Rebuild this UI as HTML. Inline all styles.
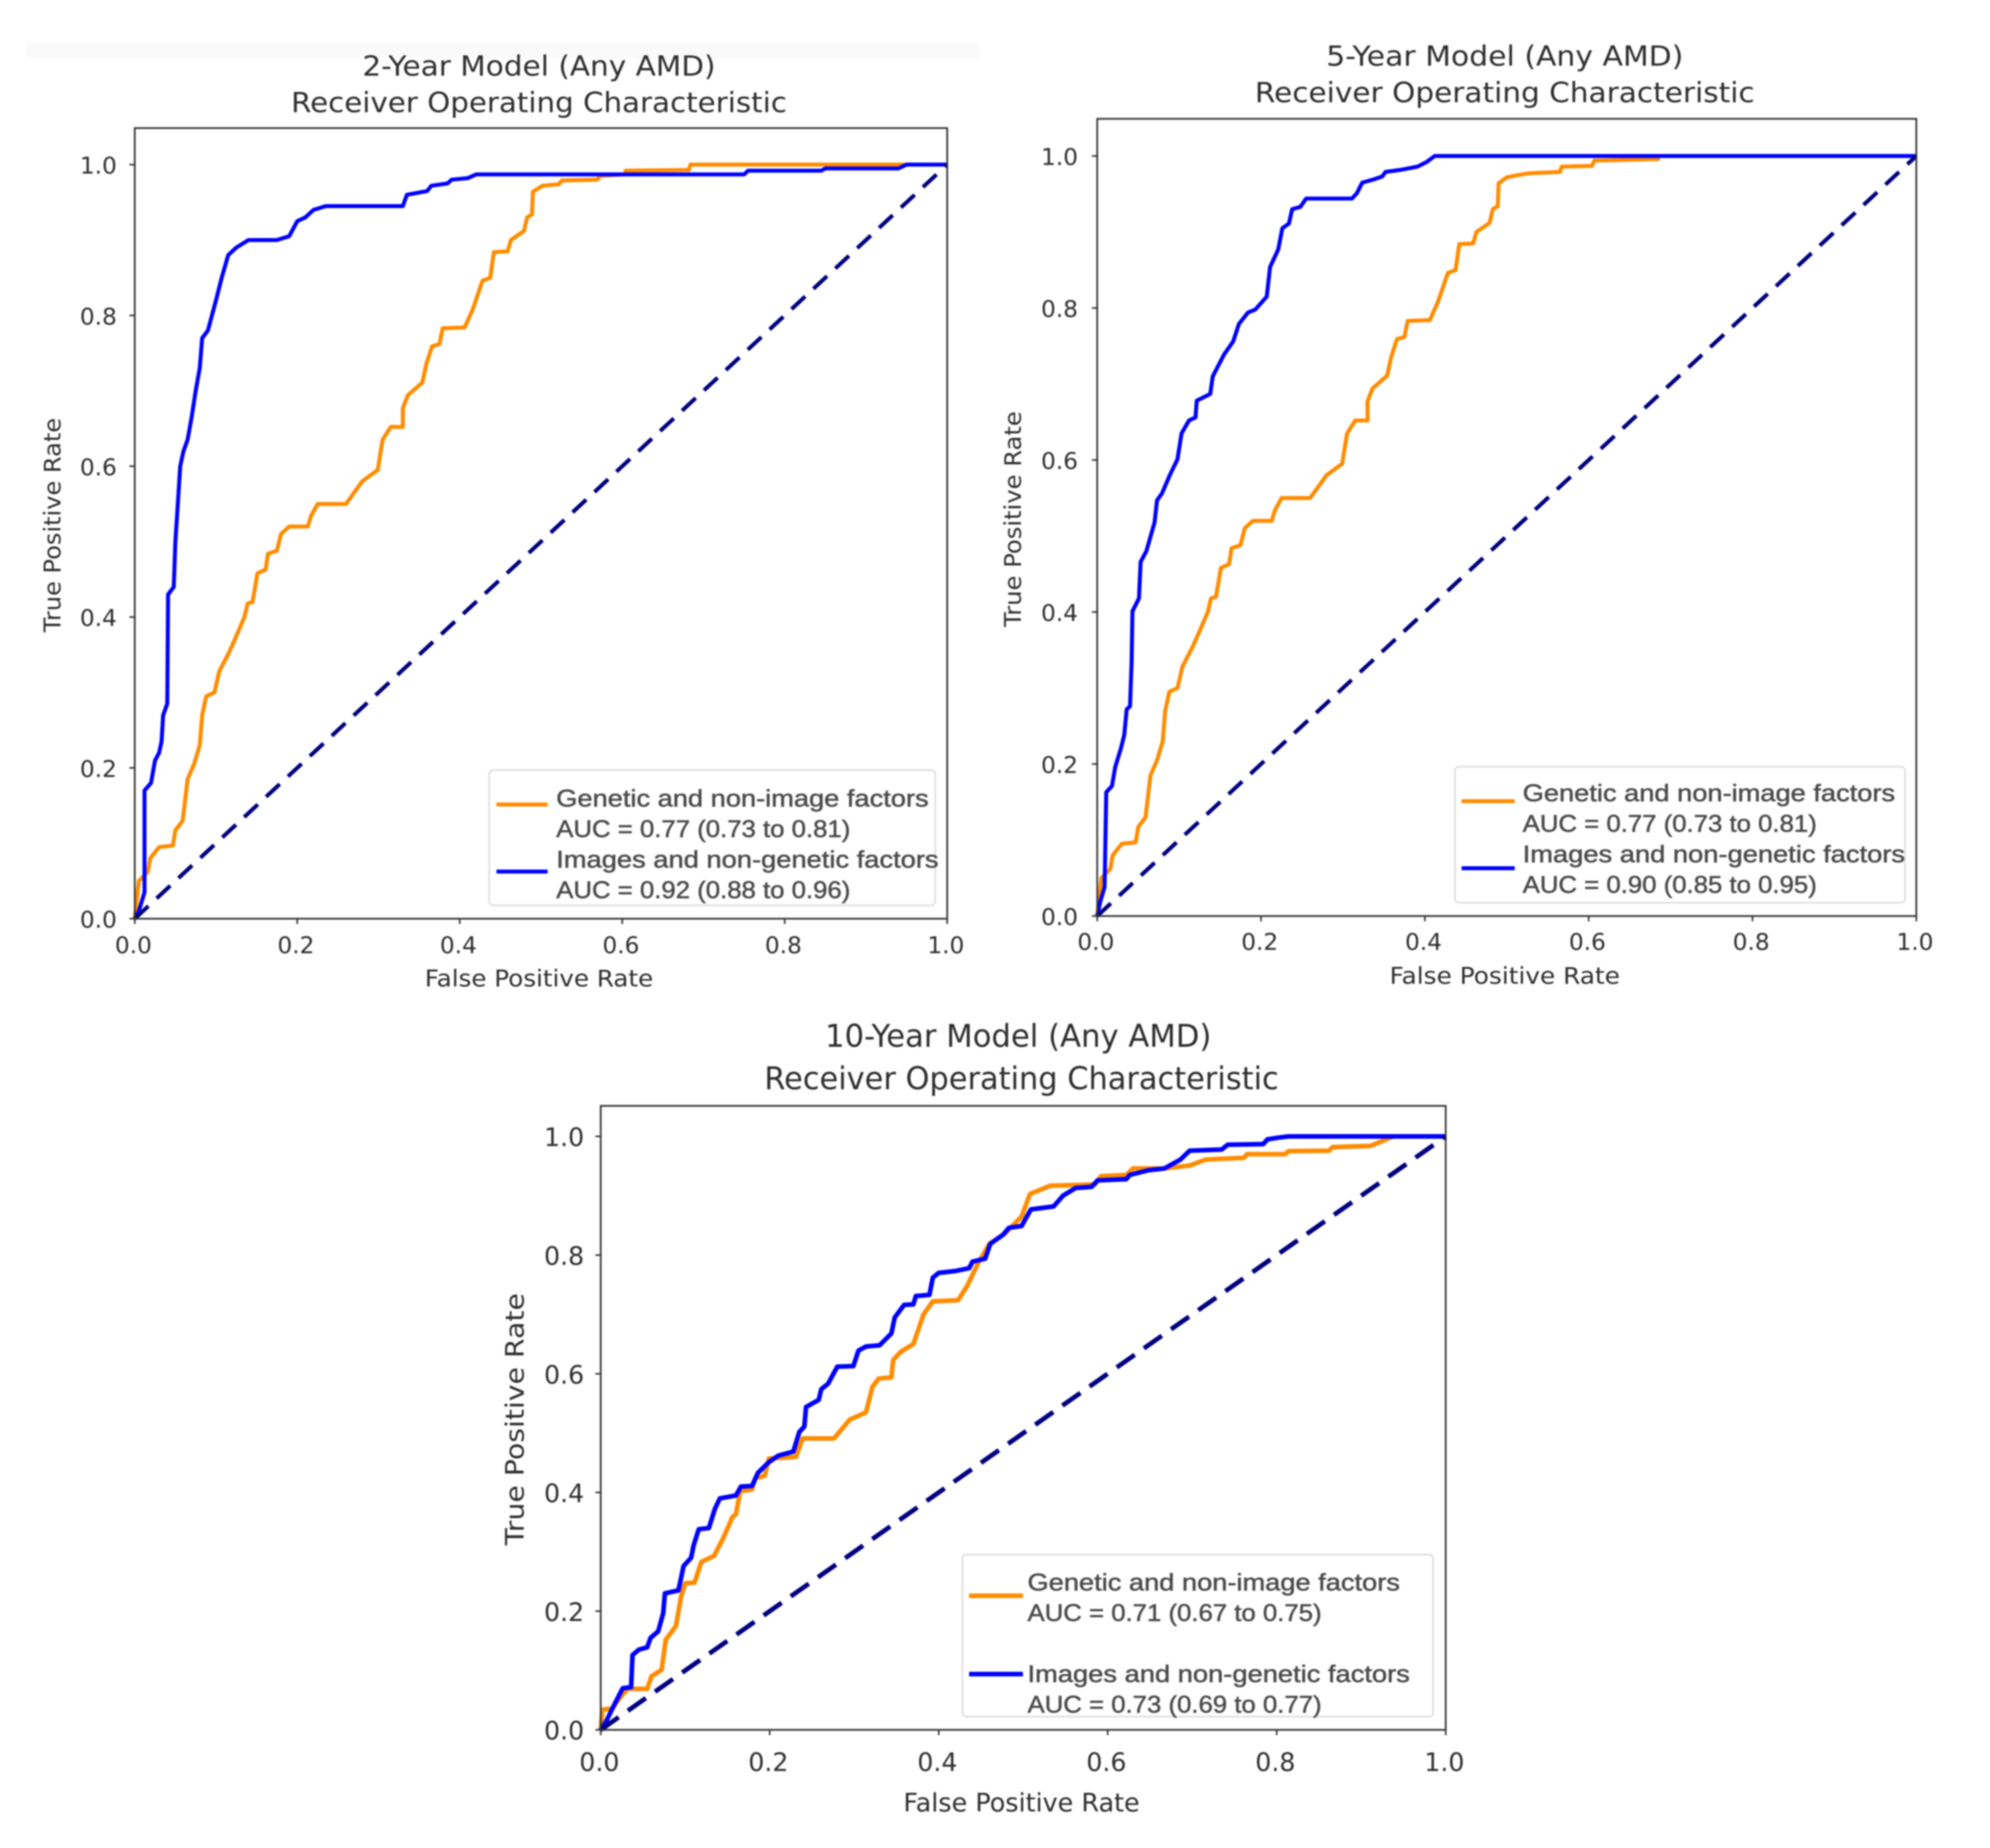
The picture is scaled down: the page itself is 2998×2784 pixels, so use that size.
<!DOCTYPE html>
<html>
<head>
<meta charset="utf-8">
<title>ROC curves for 2-, 5- and 10-year Any AMD models</title>
<style>
html,body{margin:0;padding:0;background:#fff;}
svg{display:block;filter:blur(1.1px);}
</style>
</head>
<body>
<svg id="figure" xmlns="http://www.w3.org/2000/svg" width="2998" height="2784" viewBox="0 0 2998 2784">
<rect x="0" y="0" width="2998" height="2784" fill="#ffffff"/>
<rect x="40" y="64" width="1435" height="24" fill="#fafafa"/>
</svg>
<script>
var tickValues = [0, 0.2, 0.4, 0.6, 0.8, 1.0];
var tickLabels = ['0.0', '0.2', '0.4', '0.6', '0.8', '1.0'];
var diagonalX = [0, 1];
var diagonalY = [0, 1];

var fpr2Orange = [0,.005,.016,.019,.03,.047,.05,.059,.065,.073,.08,.083,.088,.098,.104,.116,.123,.135,.139,.145,.151,.161,.164,.175,.18,.19,.213,.217,.225,.26,.28,.299,.305,.315,.33,.33,.336,.354,.359,.366,.375,.379,.406,.416,.428,.4375,.442,.459,.463,.479,.483,.489,.49,.502,.522,.526,.569,.573,.604,.604,.682,.684,.85,.95,1];
var tpr2Orange = [0,.05,.062,.08,.095,.097,.117,.13,.185,.205,.23,.27,.295,.30,.328,.353,.37,.40,.418,.42,.458,.463,.484,.488,.51,.52,.52,.534,.55,.55,.58,.595,.635,.652,.652,.677,.694,.711,.736,.759,.762,.783,.784,.808,.846,.85,.884,.885,.90,.912,.93,.934,.964,.972,.974,.979,.98,.985,.987,.992,.993,1,1,1,1];
var fpr2Blue = [0,.005,.012,.012,.02,.025,.03,.033,.035,.04,.041,.048,.05,.053,.056,.06,.065,.07,.075,.08,.083,.09,.095,.1,.107,.115,.125,.14,.175,.19,.2,.21,.22,.235,.33,.335,.36,.365,.385,.39,.41,.42,.75,.755,.845,.85,.94,.95,1];
var tpr2Blue = [0,.01,.035,.17,.18,.21,.22,.235,.27,.285,.43,.44,.5,.55,.6,.62,.635,.665,.7,.73,.77,.78,.8,.82,.85,.88,.89,.9,.9,.905,.925,.93,.94,.945,.945,.96,.965,.972,.975,.98,.982,.987,.987,.992,.992,.995,.995,1,1];

var fpr5Orange = [0,.005,.016,.019,.03,.047,.05,.059,.065,.073,.08,.083,.088,.098,.104,.116,.123,.135,.139,.145,.151,.161,.164,.175,.18,.19,.213,.217,.225,.26,.28,.299,.305,.315,.33,.33,.336,.354,.359,.366,.375,.379,.406,.416,.428,.4375,.442,.459,.463,.479,.483,.489,.49,.5,.525,.565,.567,.604,.607,.685,.685,1];
var tpr5Orange = [0,.05,.062,.08,.095,.097,.117,.13,.185,.205,.23,.27,.295,.30,.328,.353,.37,.40,.418,.42,.458,.463,.484,.488,.51,.52,.52,.534,.55,.55,.58,.595,.635,.652,.652,.677,.694,.711,.736,.759,.762,.783,.784,.808,.846,.85,.884,.885,.90,.912,.93,.934,.964,.972,.977,.979,.986,.987,.994,.996,1,1];
var fpr5Blue = [0,.004,.009,.011,.018,.022,.029,.033,.036,.04,.042,.043,.051,.053,.06,.07,.073,.079,.089,.098,.103,.112,.12,.1215,.138,.141,.155,.166,.173,.184,.193,.207,.211,.221,.226,.234,.238,.248,.255,.311,.317,.3235,.337,.348,.352,.372,.391,.402,.412,1];
var tpr5Blue = [0,.02,.038,.163,.171,.196,.221,.238,.272,.276,.334,.401,.418,.466,.48,.518,.547,.556,.581,.601,.635,.652,.656,.678,.687,.71,.739,.756,.779,.794,.798,.815,.854,.877,.905,.911,.93,.933,.944,.944,.951,.965,.969,.973,.979,.982,.986,.992,1,1];

var fpr10Orange = [0,.002,.0135,.025,.032,.055,.06,.072,.077,.089,.095,.1,.111,.119,.134,.145,.156,.16,.165,.179,.183,.194,.199,.231,.239,.276,.295,.314,.3215,.329,.344,.346,.355,.37,.382,.393,.423,.434,.446,.46,.479,.498,.508,.532,.585,.592,.622,.63,.667,.697,.716,.761,.765,.81,.814,.862,.866,.911,.938,1];
var tpr10Orange = [0,.034,.036,.058,.069,.069,.09,.101,.152,.175,.224,.247,.248,.283,.293,.323,.359,.363,.402,.405,.424,.428,.457,.46,.491,.491,.523,.535,.578,.592,.594,.623,.637,.65,.70,.722,.724,.749,.785,.819,.837,.865,.903,.917,.919,.933,.935,.946,.946,.951,.961,.964,.97,.97,.975,.976,.982,.984,1,1];
var fpr10Blue = [0,.006,.017,.026,.036,.0376,.045,.055,.059,.068,.074,.076,.092,.098,.107,.11,.116,.128,.135,.141,.16,.166,.179,.186,.199,.21,.228,.235,.241,.243,.258,.261,.269,.28,.299,.305,.314,.33,.344,.348,.359,.37,.373,.389,.393,.4,.419,.436,.44,.455,.461,.476,.483,.498,.509,.536,.547,.562,.581,.588,.622,.626,.648,.667,.686,.697,.735,.742,.784,.789,.802,.814,1];
var tpr10Blue = [0,.013,.045,.07,.072,.126,.135,.139,.155,.166,.197,.23,.235,.276,.29,.311,.338,.34,.372,.39,.395,.41,.411,.433,.451,.462,.469,.502,.511,.544,.556,.574,.583,.612,.613,.639,.646,.648,.668,.695,.716,.717,.731,.733,.762,.77,.773,.778,.789,.794,.819,.834,.846,.849,.877,.882,.9,.913,.915,.926,.928,.935,.943,.946,.961,.976,.978,.986,.987,.995,.998,1,1];

var NS = 'http://www.w3.org/2000/svg';
var figure = document.getElementById('figure');
var SANS = '"DejaVu Sans", sans-serif';
var LEGEND_FONT = '"Liberation Sans", sans-serif';

function addText(parent, content, x, y, size, fill, family, anchor, length, rotate) {
  var t = document.createElementNS(NS, 'text');
  t.textContent = content;
  t.setAttribute('x', x);
  t.setAttribute('y', y);
  t.setAttribute('font-size', size);
  t.setAttribute('fill', fill);
  t.setAttribute('font-family', family);
  t.setAttribute('text-anchor', anchor);
  if (length) {
    t.setAttribute('textLength', length);
    t.setAttribute('lengthAdjust', 'spacingAndGlyphs');
  }
  if (rotate) {
    t.setAttribute('transform', 'rotate(-90 ' + x + ' ' + y + ')');
  }
  parent.appendChild(t);
  return t;
}

function addSegment(parent, x1, y1, x2, y2, stroke, width) {
  var l = document.createElementNS(NS, 'line');
  l.setAttribute('x1', x1);
  l.setAttribute('y1', y1);
  l.setAttribute('x2', x2);
  l.setAttribute('y2', y2);
  l.setAttribute('stroke', stroke);
  l.setAttribute('stroke-width', width);
  parent.appendChild(l);
  return l;
}

function addCurve(parent, xs, ys, xScale, yScale, stroke, width, dash) {
  var points = [];
  for (var i = 0; i < xs.length; i++) {
    points.push(xScale(xs[i]).toFixed(1) + ',' + yScale(ys[i]).toFixed(1));
  }
  var p = document.createElementNS(NS, 'polyline');
  p.setAttribute('points', points.join(' '));
  p.setAttribute('fill', 'none');
  p.setAttribute('stroke', stroke);
  p.setAttribute('stroke-width', width);
  p.setAttribute('stroke-linejoin', 'round');
  if (dash) {
    p.setAttribute('stroke-dasharray', dash);
  }
  parent.appendChild(p);
  return p;
}

function drawPanel(cfg) {
  var g = document.createElementNS(NS, 'g');
  
  
  figure.appendChild(g);

  var xScale = function (v) { return cfg.left + v * (cfg.right - cfg.left); };
  var yScale = function (v) { return cfg.y0 + v * (cfg.y1 - cfg.y0); };

  var title1 = addText(g, cfg.title, cfg.title1X, cfg.titleY1, cfg.titleSize, '#2e2e2e', SANS, 'middle', cfg.titleLen1);
  
  
  var title2 = addText(g, 'Receiver Operating Characteristic', cfg.titleX, cfg.titleY2, cfg.titleSize, '#2e2e2e', SANS, 'middle', cfg.titleLen2);
  
  

  var orange = addCurve(g, cfg.orangeX, cfg.orangeY, xScale, yScale, '#ff8c00', cfg.lineWidth);
  
  
  var blue = addCurve(g, cfg.blueX, cfg.blueY, xScale, yScale, '#0000ff', cfg.lineWidth);
  
  
  var diag = addCurve(g, diagonalX, diagonalY, xScale, yScale, '#000080', cfg.lineWidth, cfg.dash);
  
  

  var frame = document.createElementNS(NS, 'rect');
  frame.setAttribute('x', cfg.left);
  frame.setAttribute('y', cfg.top);
  frame.setAttribute('width', cfg.right - cfg.left);
  frame.setAttribute('height', cfg.y0 - cfg.top);
  frame.setAttribute('fill', 'none');
  frame.setAttribute('stroke', '#333333');
  frame.setAttribute('stroke-width', 2.6);
  
  
  g.appendChild(frame);

  for (var i = 0; i < tickValues.length; i++) {
    var tx = xScale(tickValues[i]);
    var xTick = addSegment(g, tx, cfg.y0, tx, cfg.y0 + 8, '#333333', 2.4);
    
    
    var xLabel = addText(g, tickLabels[i], tx - 2, cfg.xTickY, cfg.tickSize, '#2e2e2e', SANS, 'middle');
    
    

    var ty = yScale(tickValues[i]);
    var yTick = addSegment(g, cfg.left - 8, ty, cfg.left, ty, '#333333', 2.4);
    
    
    var yLabel = addText(g, tickLabels[i], cfg.yTickX, ty + cfg.tickSize * 0.36 + 1, cfg.tickSize, '#2e2e2e', SANS, 'end');
    
    
  }

  var xTitle = addText(g, 'False Positive Rate', cfg.titleX, cfg.xTitleY, cfg.axisSize, '#2e2e2e', SANS, 'middle', cfg.xTitleLen);
  
  
  var yTitle = addText(g, 'True Positive Rate', cfg.yTitleX, cfg.yTitleY, cfg.axisSize, '#2e2e2e', SANS, 'middle', cfg.yTitleLen, true);
  
  

  var box = document.createElementNS(NS, 'rect');
  box.setAttribute('x', cfg.legLeft);
  box.setAttribute('y', cfg.legTop);
  box.setAttribute('width', cfg.legRight - cfg.legLeft);
  box.setAttribute('height', cfg.legBottom - cfg.legTop);
  box.setAttribute('rx', 6);
  box.setAttribute('fill', '#ffffff');
  box.setAttribute('fill-opacity', 0.85);
  box.setAttribute('stroke', '#dedede');
  box.setAttribute('stroke-width', 2.5);
  
  
  g.appendChild(box);

  var h1 = addSegment(g, cfg.handleX1, cfg.handleY1, cfg.handleX2, cfg.handleY1, '#ff8c00', cfg.lineWidth);
  
  
  var h2 = addSegment(g, cfg.handleX1, cfg.handleY2, cfg.handleX2, cfg.handleY2, '#0000ff', cfg.lineWidth);
  
  

  var lg1 = addText(g, 'Genetic and non-image factors', cfg.legTextX, cfg.legY[0], 36, '#4a4a4a', LEGEND_FONT, 'start', 561);
  
  
  var lg2 = addText(g, cfg.auc1, cfg.legTextX, cfg.legY[1], 36, '#4a4a4a', LEGEND_FONT, 'start', 443);
  
  
  var lg3 = addText(g, 'Images and non-genetic factors', cfg.legTextX, cfg.legY[2], 36, '#4a4a4a', LEGEND_FONT, 'start', 576);
  
  
  var lg4 = addText(g, cfg.auc2, cfg.legTextX, cfg.legY[3], 36, '#4a4a4a', LEGEND_FONT, 'start', 443);
  
  
  lg1.setAttribute('stroke', '#4a4a4a');
  lg1.setAttribute('stroke-width', '0.7');
  lg2.setAttribute('stroke', '#4a4a4a');
  lg2.setAttribute('stroke-width', '0.7');
  lg3.setAttribute('stroke', '#4a4a4a');
  lg3.setAttribute('stroke-width', '0.7');
  lg4.setAttribute('stroke', '#4a4a4a');
  lg4.setAttribute('stroke-width', '0.7');
}

drawPanel({
  name: 'two-year', title: '2-Year Model (Any AMD)',
  left: 203, right: 1427, top: 193, y0: 1384, y1: 248,
  orangeX: fpr2Orange, orangeY: tpr2Orange, blueX: fpr2Blue, blueY: tpr2Blue,
  lineWidth: 6, dash: '28 17',
  titleX: 812, title1X: 812, titleY1: 114, titleY2: 169, titleLen1: 532, titleLen2: 747, titleSize: 42,
  tickSize: 35, axisSize: 35, xTickY: 1436, yTickX: 176,
  xTitleY: 1486, xTitleLen: 344, yTitleX: 91, yTitleY: 791, yTitleLen: 323,
  legLeft: 737, legRight: 1409, legTop: 1160, legBottom: 1364,
  handleX1: 748, handleX2: 825, handleY1: 1212, handleY2: 1313,
  legTextX: 838, legY: [1215, 1261, 1307, 1353],
  auc1: 'AUC = 0.77 (0.73 to 0.81)', auc2: 'AUC = 0.92 (0.88 to 0.96)'
});

drawPanel({
  name: 'five-year', title: '5-Year Model (Any AMD)',
  left: 1653, right: 2887, top: 179, y0: 1380, y1: 235,
  orangeX: fpr5Orange, orangeY: tpr5Orange, blueX: fpr5Blue, blueY: tpr5Blue,
  lineWidth: 6, dash: '28 17',
  titleX: 2267, title1X: 2267, titleY1: 99, titleY2: 154, titleLen1: 538, titleLen2: 753, titleSize: 42,
  tickSize: 35, axisSize: 35, xTickY: 1431, yTickX: 1624,
  xTitleY: 1482, xTitleLen: 347, yTitleX: 1538, yTitleY: 782, yTitleLen: 325,
  legLeft: 2192, legRight: 2870, legTop: 1155, legBottom: 1360,
  handleX1: 2202, handleX2: 2282, handleY1: 1207, handleY2: 1308,
  legTextX: 2294, legY: [1207, 1253, 1299, 1345],
  auc1: 'AUC = 0.77 (0.73 to 0.81)', auc2: 'AUC = 0.90 (0.85 to 0.95)'
});

drawPanel({
  name: 'ten-year', title: '10-Year Model (Any AMD)',
  left: 905, right: 2178, top: 1666, y0: 2606, y1: 1712,
  orangeX: fpr10Orange, orangeY: tpr10Orange, blueX: fpr10Blue, blueY: tpr10Blue,
  lineWidth: 7, dash: '33 17',
  titleX: 1539, title1X: 1534, titleY1: 1577, titleY2: 1641, titleLen1: 582, titleLen2: 775, titleSize: 47,
  tickSize: 38, axisSize: 38, xTickY: 2668, yTickX: 880,
  xTitleY: 2729, xTitleLen: 356, yTitleX: 789, yTitleY: 2138, yTitleLen: 380,
  legLeft: 1450, legRight: 2159, legTop: 2342, legBottom: 2586,
  handleX1: 1460, handleX2: 1541, handleY1: 2404, handleY2: 2522,
  legTextX: 1548, legY: [2396, 2442, 2534, 2580],
  auc1: 'AUC = 0.71 (0.67 to 0.75)', auc2: 'AUC = 0.73 (0.69 to 0.77)'
});
</script>
</body>
</html>
